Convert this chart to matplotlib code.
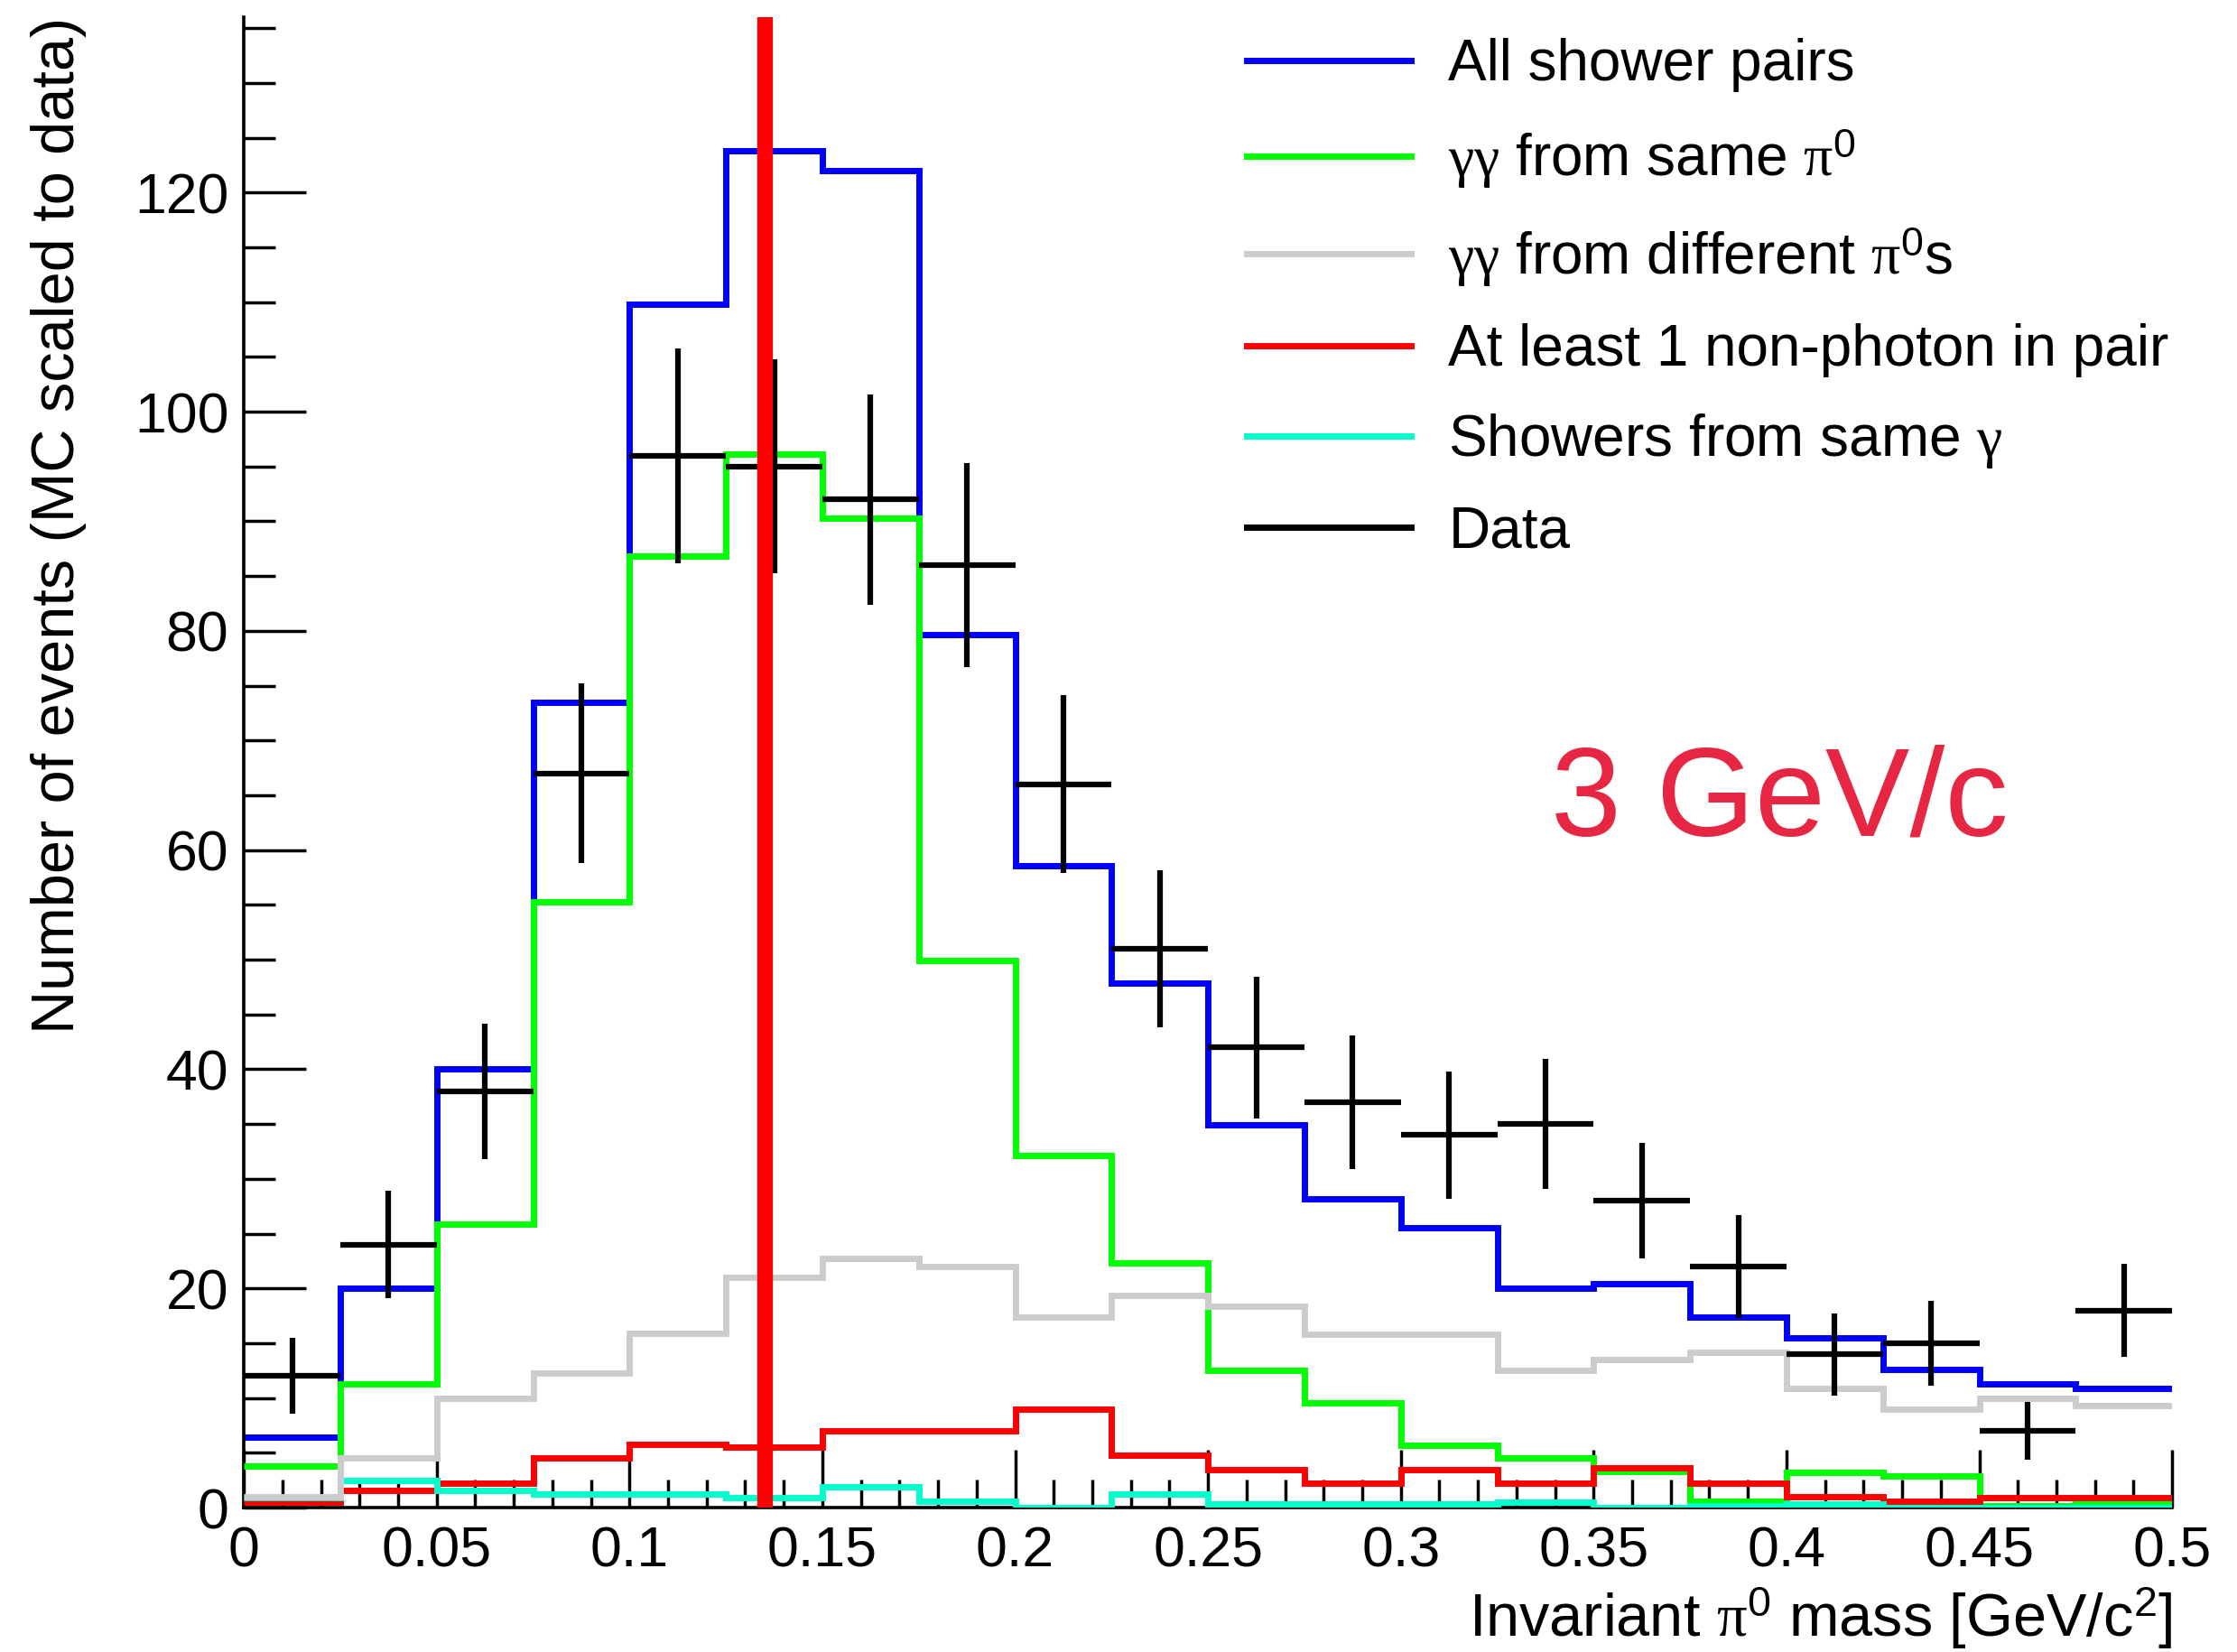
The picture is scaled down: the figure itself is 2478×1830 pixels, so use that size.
import numpy as np
import matplotlib
matplotlib.use('Agg')
import matplotlib.pyplot as plt
from matplotlib.lines import Line2D
from matplotlib.ticker import MultipleLocator, FormatStrFormatter

plt.rcParams['font.family'] = ['Liberation Sans', 'DejaVu Sans']
plt.rcParams['mathtext.fontset'] = 'custom'
plt.rcParams['mathtext.rm'] = 'Liberation Serif'
plt.rcParams['mathtext.sf'] = 'Liberation Sans'
plt.rcParams['mathtext.it'] = 'Liberation Serif:italic'

# 20 bins of 0.025 GeV/c^2 from 0 to 0.5
edges = np.linspace(0, 0.5, 21)
all_pairs = [6.4, 20.0, 40.0, 73.5, 109.8, 123.8, 122.0, 79.7, 58.6, 47.9,
             34.9, 28.2, 25.5, 20.0, 20.4, 17.4, 15.5, 12.6, 11.3, 10.9]
same_pi0 = [3.8, 11.3, 25.9, 55.3, 86.8, 96.1, 90.3, 49.9, 32.1, 22.3,
            12.5, 9.6, 5.7, 4.5, 3.3, 0.6, 3.2, 2.9, 0.2, 0.5]
diff_pi0 = [1.0, 4.5, 10.0, 12.3, 15.9, 21.0, 22.7, 22.0, 17.4, 19.4,
            18.4, 15.8, 15.8, 12.5, 13.5, 14.2, 10.9, 9.0, 10.0, 9.3]
non_photon = [0.5, 1.6, 2.2, 4.5, 5.8, 5.5, 7.0, 7.0, 9.0, 4.8,
              3.5, 2.2, 3.5, 2.2, 3.6, 2.2, 1.0, 0.6, 0.9, 0.9]
same_gamma = [0.9, 2.5, 1.6, 1.2, 1.2, 0.9, 1.9, 0.6, 0.0, 1.2,
              0.3, 0.3, 0.3, 0.5, 0.0, 0.2, 0.35, 0.0, 0.0, 0.0]
data = [12, 24, 38, 67, 96, 95, 92, 86, 66, 51,
        42, 37, 34, 35, 28, 22, 14, 15, 7, 18]
pi0_mass = 0.135

labels = ['All shower pairs',
          r'$\mathrm{\gamma\gamma}$ from same $\mathrm{\pi}^{\mathsf{0}}$',
          r'$\mathrm{\gamma\gamma}$ from different $\mathrm{\pi}^{\mathsf{0}}$s',
          'At least 1 non-photon in pair',
          r'Showers from same $\mathrm{\gamma}$',
          'Data']
colors = ['#0000ff', '#00ff00', '#cccccc', '#ff0000', '#00ffcc', 'black']

fig = plt.figure(figsize=(24.78, 18.30), dpi=100)
ax = fig.add_axes([0.109, 0.0874, 0.862, 0.9022])

lw = 5.0
ax.stairs(all_pairs, edges, baseline=None, color=colors[0], lw=lw, zorder=2)
ax.stairs(same_pi0, edges, baseline=None, color=colors[1], lw=lw, zorder=3)
ax.stairs(non_photon, edges, baseline=None, color=colors[3], lw=lw, zorder=4)
ax.stairs(same_gamma, edges, baseline=None, color=colors[4], lw=lw, zorder=5)
ax.stairs(diff_pi0, edges, baseline=None, color=colors[2], lw=lw, zorder=6)

centers = 0.5 * (edges[:-1] + edges[1:])
d = np.array(data, float)
ax.errorbar(centers, d, xerr=0.5 * np.diff(edges), yerr=np.sqrt(d), fmt='none',
            ecolor='black', elinewidth=4.5, capsize=0, zorder=7)
ax.axvline(pi0_mass, color='red', lw=12.5, zorder=8)

ax.set_xlim(0, 0.5)
ax.set_ylim(0, 136)
for s in ['top', 'right']:
    ax.spines[s].set_visible(False)
for s in ['left', 'bottom']:
    ax.spines[s].set_linewidth(2.6)

ax.xaxis.set_major_locator(MultipleLocator(0.05))
ax.xaxis.set_minor_locator(MultipleLocator(0.01))
ax.yaxis.set_major_locator(MultipleLocator(20))
ax.yaxis.set_minor_locator(MultipleLocator(5))
ax.xaxis.set_major_formatter(FormatStrFormatter('%g'))
ax.tick_params(axis='x', which='major', direction='in', length=46, width=2.5,
               labelsize=45, pad=14, top=False)
ax.tick_params(axis='x', which='minor', direction='in', length=22, width=2.5, top=False)
ax.tick_params(axis='y', which='major', direction='in', length=50, width=2.5,
               labelsize=45, pad=12, right=False)
ax.tick_params(axis='y', which='minor', direction='in', length=25, width=2.5, right=False)

ax.set_xlabel(r'Invariant $\mathrm{\pi}^{\mathsf{0}}$ mass [GeV/c$^{\mathsf{2}}$]',
              fontsize=48, loc='right', labelpad=6)
ax.set_ylabel('Number of events (MC scaled to data)', fontsize=48, loc='top', labelpad=38)

ax.text(0.339, 61.3, '3 GeV/c', fontsize=101, color='#e62642', ha='left', va='baseline')

handles = [Line2D([], [], color=c, lw=lw) for c in colors]
ax.legend(handles, labels, loc='upper left', bbox_to_anchor=(0.52, 0.986), frameon=False,
          fontsize=46, handlelength=2.85, handletextpad=0.65, labelspacing=0.6,
          borderpad=0, borderaxespad=0)

fig.savefig('out.png', dpi=100)
